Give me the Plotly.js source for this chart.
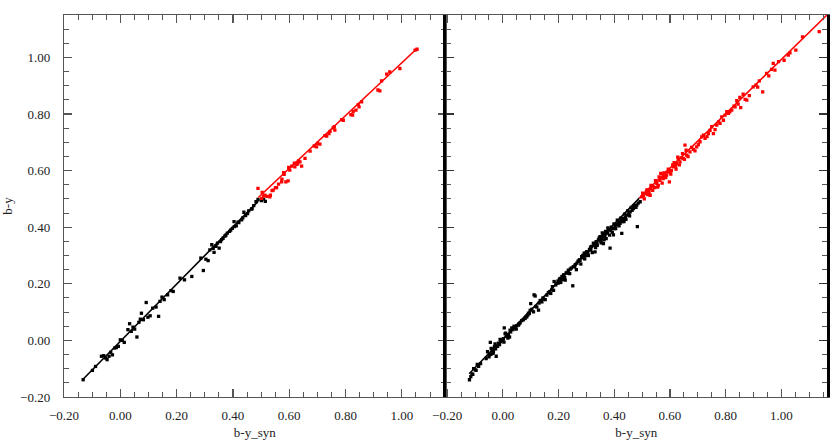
<!DOCTYPE html>
<html>
<head>
<meta charset="utf-8">
<script src="https://cdn.plot.ly/plotly-3.0.1.min.js"></script>
<style>
  html, body { margin: 0; padding: 0; background: #fff; }
  #chart { width: 832px; height: 443px; }
</style>
</head>
<body>
<div id="chart"></div>
<script>
// left panel, black (b-y < 0.5)
const leftBlackX = [-0.132,-0.099,-0.088,-0.067,-0.059,-0.052,-0.047,-0.040,-0.034,-0.028,-0.020,-0.014,-0.007,0.000,0.007,0.014,0.027,0.033,0.039,0.045,0.051,0.059,0.066,0.071,0.075,0.082,0.092,0.098,0.106,0.115,0.127,0.136,0.141,0.148,0.156,0.168,0.180,0.188,0.212,0.228,0.254,0.286,0.295,0.304,0.312,0.318,0.325,0.333,0.339,0.345,0.351,0.356,0.365,0.372,0.380,0.388,0.398,0.404,0.412,0.421,0.431,0.439,0.445,0.456,0.466,0.474,0.482,0.489,0.501,0.509,0.515,0.330,0.340,0.360,0.375,0.392,0.405,0.418,0.435,0.452,0.468];
const leftBlackY = [-0.139,-0.106,-0.092,-0.056,-0.054,-0.062,-0.068,-0.056,-0.042,-0.051,-0.027,-0.025,-0.021,0.002,0.000,-0.007,0.038,0.059,0.032,0.047,0.040,0.012,0.064,0.075,0.096,0.073,0.134,0.082,0.087,0.114,0.118,0.085,0.138,0.153,0.144,0.161,0.176,0.173,0.220,0.214,0.226,0.291,0.247,0.287,0.282,0.320,0.338,0.311,0.332,0.344,0.326,0.349,0.361,0.369,0.379,0.385,0.396,0.420,0.405,0.416,0.426,0.453,0.441,0.458,0.464,0.476,0.490,0.498,0.494,0.499,0.491,0.325,0.335,0.356,0.372,0.390,0.402,0.418,0.433,0.448,0.466];

// left panel, red (b-y >= 0.5)
const leftRedX = [0.489,0.502,0.504,0.509,0.514,0.521,0.531,0.533,0.539,0.543,0.551,0.555,0.562,0.573,0.574,0.580,0.582,0.588,0.596,0.598,0.602,0.609,0.618,0.620,0.627,0.630,0.633,0.638,0.644,0.656,0.674,0.689,0.697,0.701,0.709,0.727,0.733,0.741,0.745,0.756,0.760,0.762,0.786,0.792,0.819,0.825,0.827,0.837,0.845,0.848,0.857,0.915,0.922,0.928,0.946,0.957,0.993,1.047,1.054];
const leftRedY = [0.537,0.502,0.523,0.511,0.513,0.509,0.507,0.513,0.529,0.531,0.540,0.540,0.552,0.560,0.570,0.593,0.587,0.560,0.564,0.611,0.602,0.616,0.626,0.613,0.622,0.625,0.634,0.631,0.616,0.643,0.669,0.687,0.684,0.696,0.694,0.724,0.722,0.731,0.739,0.751,0.755,0.743,0.780,0.778,0.798,0.796,0.809,0.814,0.833,0.825,0.843,0.885,0.882,0.917,0.941,0.949,0.961,1.026,1.029];

// right panel, black
const rightBlackX = [-0.120,-0.111,-0.108,-0.099,-0.096,-0.087,-0.048,-0.045,-0.043,-0.039,-0.034,-0.033,-0.028,-0.024,-0.019,-0.012,-0.007,-0.004,0.000,0.002,0.005,0.008,0.012,0.014,0.020,0.024,0.026,0.032,0.036,0.044,0.050,0.056,0.062,0.074,0.084,0.086,0.092,0.095,0.098,0.100,0.110,0.112,0.116,0.122,0.128,0.134,0.140,0.146,0.152,0.164,0.172,0.176,0.182,0.184,0.194,0.200,0.203,0.206,0.212,0.215,0.218,0.224,0.227,0.235,0.236,0.242,0.251,0.253,0.256,0.266,0.275,0.277,0.283,0.289,0.292,0.301,0.311,0.313,0.319,0.325,0.331,0.335,0.343,0.349,0.355,0.359,0.361,0.367,0.373,0.379,0.385,0.391,0.397,0.403,0.409,0.415,0.421,0.427,0.433,0.435,0.445,0.457,0.469,0.481,0.483,0.478,0.493,0.260,0.270,0.285,0.297,0.305,0.316,0.328,0.338,0.352,0.364,0.376,0.388,0.400,0.412,0.425,0.440,0.452,0.464,
  -0.115,-0.105,-0.092,-0.080,-0.060,-0.055,-0.050,-0.042,-0.036,-0.030,-0.026,-0.016,-0.010,0.004,0.010,0.018,0.028,0.040,0.048,0.058,0.068,0.080,0.090,0.104,0.118,0.130,0.144,0.158,0.168,0.178,0.190,0.198,0.208,0.222,0.230,0.240,0.246,0.258,0.264,0.272,0.280,0.287,0.294,0.299,0.307,0.315,0.321,0.329,0.333,0.339,0.346,0.353,0.357,0.363,0.369,0.371,0.377,0.383,0.389,0.393,0.399,0.405,0.411,0.417,0.423,0.429,0.437,0.442,0.448,0.455,0.461,0.472,0.486];
const rightBlackY = [-0.139,-0.118,-0.120,-0.104,-0.106,-0.092,-0.051,-0.007,-0.049,-0.035,-0.041,-0.031,-0.012,-0.056,-0.021,-0.015,-0.004,0.000,0.000,0.006,0.044,0.024,0.014,0.018,0.020,0.012,0.036,0.044,0.038,0.044,0.052,0.054,0.062,0.073,0.085,0.083,0.096,0.095,0.106,0.130,0.101,0.161,0.157,0.118,0.107,0.141,0.136,0.146,0.144,0.169,0.166,0.179,0.177,0.208,0.202,0.203,0.216,0.219,0.226,0.215,0.232,0.213,0.238,0.248,0.238,0.252,0.193,0.260,0.261,0.273,0.285,0.283,0.296,0.295,0.308,0.314,0.322,0.319,0.332,0.344,0.313,0.349,0.355,0.367,0.360,0.373,0.342,0.372,0.379,0.391,0.326,0.396,0.373,0.407,0.408,0.419,0.414,0.378,0.431,0.420,0.443,0.454,0.466,0.478,0.402,0.470,0.490,0.268,0.280,0.292,0.300,0.310,0.322,0.336,0.344,0.350,0.366,0.380,0.388,0.395,0.410,0.422,0.436,0.447,0.460,
  -0.128,-0.100,-0.085,-0.082,-0.064,-0.040,-0.058,-0.028,-0.046,-0.022,-0.030,-0.010,0.004,-0.006,0.026,0.008,0.030,0.050,0.040,0.058,0.070,0.078,0.090,0.110,0.120,0.132,0.150,0.160,0.172,0.190,0.196,0.210,0.205,0.222,0.240,0.236,0.256,0.262,0.250,0.280,0.270,0.300,0.288,0.310,0.300,0.330,0.310,0.340,0.328,0.336,0.362,0.345,0.380,0.355,0.385,0.360,0.398,0.372,0.400,0.382,0.412,0.395,0.425,0.405,0.432,0.420,0.446,0.428,0.458,0.440,0.470,0.476,0.485];

// right panel, red
const rightRedX = [0.499,0.505,0.511,0.515,0.520,0.522,0.529,0.530,0.535,0.540,0.545,0.550,0.553,0.558,0.564,0.567,0.570,0.576,0.580,0.588,0.590,0.598,0.600,0.605,0.610,0.612,0.620,0.624,0.630,0.636,0.640,0.648,0.654,0.660,0.672,0.684,0.696,0.708,0.714,0.726,0.738,0.750,0.756,0.768,0.780,0.792,0.798,0.804,0.810,0.822,0.830,0.834,0.840,0.851,0.854,0.863,0.876,0.899,0.909,0.921,0.933,0.947,0.965,0.971,0.977,1.025,1.031,1.052,1.076,1.136,
  0.502,0.508,0.517,0.525,0.532,0.538,0.548,0.556,0.561,0.572,0.578,0.585,0.594,0.603,0.615,0.622,0.628,0.634,0.645,0.652,0.658,0.665,0.678,0.690,0.702,0.720,0.733,0.744,0.762,0.775,0.786,0.815,0.845,0.870,0.885,0.915,0.955,0.990,1.010];
const rightRedY = [0.507,0.510,0.519,0.525,0.515,0.531,0.513,0.535,0.545,0.543,0.540,0.560,0.555,0.548,0.566,0.590,0.575,0.572,0.580,0.584,0.595,0.560,0.596,0.600,0.620,0.613,0.615,0.625,0.640,0.631,0.645,0.643,0.690,0.655,0.666,0.675,0.684,0.702,0.719,0.714,0.731,0.755,0.731,0.761,0.767,0.778,0.796,0.808,0.802,0.814,0.828,0.825,0.847,0.859,0.823,0.870,0.849,0.896,0.902,0.917,0.878,0.944,0.958,0.979,0.955,1.008,1.016,1.026,1.073,1.091,
  0.520,0.500,0.532,0.522,0.548,0.530,0.565,0.542,0.578,0.556,0.592,0.575,0.605,0.588,0.628,0.605,0.648,0.620,0.660,0.640,0.672,0.650,0.682,0.670,0.692,0.725,0.720,0.742,0.745,0.772,0.790,0.808,0.835,0.852,0.865,0.895,0.935,0.985,0.990];

// fitted lines (end points)
const leftBlackFit = {x: [-0.135, 0.49], y: [-0.14, 0.492]};
const leftRedFit = {x: [0.49, 1.052], y: [0.505, 1.030]};
const rightBlackFit = {x: [-0.121, 0.49], y: [-0.118, 0.503]};
const rightRedFit = {x: [0.49, 1.164], y: [0.503, 1.15]};

const pts = (x, y, color, xa, ya) => ({
  x, y, xaxis: xa, yaxis: ya,
  type: 'scatter', mode: 'markers',
  marker: {symbol: 'square', size: 3.3, color: color, line: {width: 0}},
  hoverinfo: 'none', showlegend: false,
})
const fit = (f, color, xa, ya) => ({
  x: f.x, y: f.y, xaxis: xa, yaxis: ya,
  type: 'scatter', mode: 'lines',
  line: {color: color, width: 1.6},
  hoverinfo: 'none', showlegend: false,
})

const data = [
  pts(leftBlackX, leftBlackY, '#000', 'x', 'y'),
  pts(leftRedX, leftRedY, '#ff0000', 'x', 'y'),
  fit(leftBlackFit, '#000', 'x', 'y'),
  fit(leftRedFit, '#ff0000', 'x', 'y'),
  pts(rightBlackX, rightBlackY, '#000', 'x2', 'y2'),
  pts(rightRedX, rightRedY, '#ff0000', 'x2', 'y2'),
  fit(rightBlackFit, '#000', 'x2', 'y2'),
  fit(rightRedFit, '#ff0000', 'x2', 'y2'),
]

const font = {family: '"Liberation Serif", "Times New Roman", serif', size: 13, color: '#222'}

const axisBase = {
  showgrid: false,
  zeroline: false,
  showline: true,
  linecolor: '#555',
  linewidth: 1.2,
  mirror: 'ticks',
  ticks: 'inside',
  ticklen: 8,
  tickwidth: 1.2,
  tickcolor: '#555',
  dtick: 0.2,
  tick0: 0,
  tickformat: '.2f',
  minor: {ticks: 'inside', dtick: 0.05, ticklen: 5, tickwidth: 1, tickcolor: '#555'},
  tickfont: font,
}

const layout = {
  width: 832,
  height: 443,
  margin: {l: 64, r: 5, t: 15, b: 46, pad: 0},
  paper_bgcolor: '#fff',
  plot_bgcolor: '#fff',
  font: font,
  showlegend: false,
  xaxis: {
    ...axisBase,
    domain: [0, 0.5],
    range: [-0.2, 1.155],
    anchor: 'y',
    ticklabelstandoff: 6,
    title: {text: 'b-y_syn', font: font, standoff: 6},
  },
  yaxis: {
    ...axisBase,
    range: [-0.2, 1.15],
    anchor: 'x',
    ticklabelstandoff: 10,
    title: {text: 'b-y', font: font, standoff: 11},
  },
  xaxis2: {
    ...axisBase,
    domain: [0.5, 1],
    range: [-0.206, 1.164],
    anchor: 'y2',
    ticklabelstandoff: 6,
    title: {text: 'b-y_syn', font: font, standoff: 6},
  },
  yaxis2: {
    ...axisBase,
    range: [-0.2, 1.15],
    anchor: 'x2',
    showticklabels: false,
    linecolor: '#000',
    linewidth: 2.5,
    tickcolor: '#333',
  },
}

Plotly.newPlot('chart', data, layout, {staticPlot: true, displayModeBar: false})
</script>
</body>
</html>
